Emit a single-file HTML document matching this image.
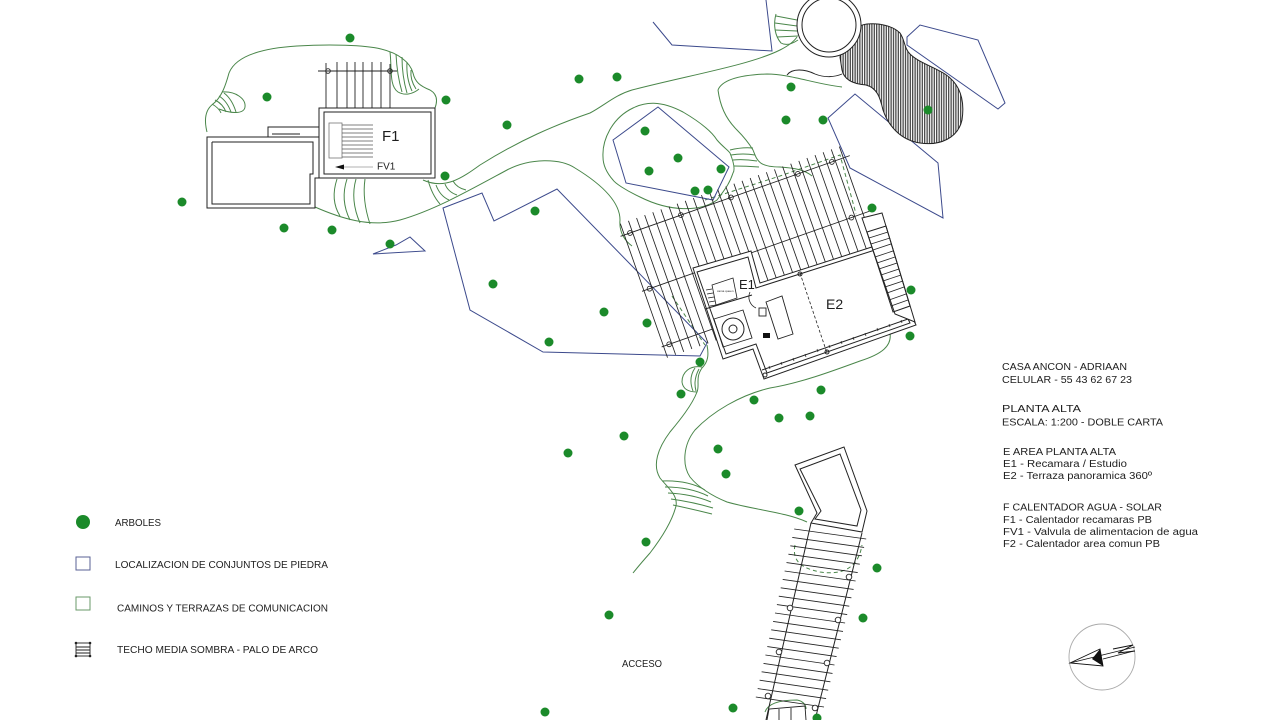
<!DOCTYPE html>
<html><head><meta charset="utf-8"><style>
html,body{margin:0;padding:0;background:#fff;}
svg{display:block;}
text{font-family:"Liberation Sans",sans-serif;fill:#1e1e1e;}
</style></head><body>
<svg width="1280" height="720" viewBox="0 0 1280 720" xmlns="http://www.w3.org/2000/svg">
<defs>
<pattern id="vh" width="2.4" height="10" patternUnits="userSpaceOnUse">
<rect width="2.4" height="10" fill="#fff"/>
<line x1="0.7" y1="0" x2="0.7" y2="10" stroke="#2a2a2a" stroke-width="1.1"/>
</pattern>
</defs>
<rect width="1280" height="720" fill="#fff"/>

<!-- GREEN PATHS -->
<g fill="none" stroke="#4a864a" stroke-width="1">
<path d="M207,132 C204,120 205,110 213,104 C222,97 226,84 229,73 C236,55 265,48 297,46 C330,44 365,45 381,49 C398,53 410,62 413,73 C415,82 420,86 430,90 C437,94 438,100 435,108"/>
<path d="M222,92 C236,91 246,99 245,107 C244,114 232,114 219,109"/>
<path d="M212,104 Q219,108 221,113 M215,100 Q223,104 226,112 M219,96 Q227,101 231,112 M224,93 Q232,99 236,112"/>
<path d="M390,52 C392,68 389,86 398,92 C405,96 413,94 419,89"/>
<path d="M396,54 Q397,75 402,92 M402,57 Q402,76 407,93 M407,62 Q406,78 412,91 M411,70 Q410,80 416,89"/>
<path d="M315,207 C340,218 370,228 400,220 C435,210 470,190 507,170 C530,158 560,158 575,168 C598,182 620,200 620,220 C619,232 624,240 632,246"/>
<path d="M337,179 Q330,200 340,216 M347,179 Q340,200 350,220 M356,179 Q350,200 360,223 M365,179 Q362,200 370,224"/>
<path d="M423,180 C445,190 462,178 480,165 C520,140 555,125 590,113 C605,105 615,95 632,90 C690,75 750,65 780,50 C790,45 795,40 797,37"/>
<path d="M428,180 Q432,195 440,204 M436,185 Q440,196 449,200 M445,184 Q448,192 457,195 M453,181 Q457,188 466,190"/>
<path d="M603,157 C602,140 612,118 633,108 C645,102 660,100 683,112 C700,122 712,132 717,140 C723,147 728,150 730,153 C734,163 735,170 733,173 C730,182 727,187 717,200 C700,212 670,212 640,197 C625,190 615,183 613,180 C606,172 603,165 603,157"/>
<path d="M730,150 Q742,147 753,148 M731,155 Q743,153 755,155 M733,160 Q744,159 757,161 M734,166 Q746,166 759,167"/>
<path d="M718,90 C722,80 740,75 767,74 C790,74 815,84 842,87"/>
<path d="M718,90 C720,105 725,118 737,130 C745,138 750,145 753,150 C757,160 758,167 780,167 C795,168 805,170 812,176"/>
<path d="M707,345 C709,355 708,362 702,368 C695,378 700,385 697,392 C692,405 680,420 670,432 C658,448 652,465 660,478 C668,488 678,495 676,506 C672,522 660,540 650,553 C642,562 637,568 633,573"/>
<path d="M890,333 C892,346 882,354 860,361 C830,372 800,383 770,388 C740,395 712,412 695,430 C683,445 682,465 690,477 C698,487 712,496 727,502 C755,510 785,512 807,522"/>
<path d="M702,367 C690,365 682,372 682,382 C683,390 690,392 697,392 M695,368 Q688,378 693,391 M699,369 Q693,380 696,391"/>
<path d="M662,481 Q688,480 705,490 M665,487 Q690,487 708,496 M668,493 Q692,494 711,502 M671,499 Q693,502 713,508 M673,505 Q692,509 712,514"/>
<path d="M776,14 C773,25 775,36 781,43 C786,46 792,44 798,40"/>
<path d="M776,16 L797,20 M775,23 L797,26 M775,30 L797,31 M777,37 L798,36"/>
<path d="M705,200 L780,176 L840,155 L856,214" stroke-dasharray="4,3"/>
<path d="M672,296 L705,345" stroke-dasharray="4,3"/>
<path d="M795,545 C792,560 800,568 820,572 C840,575 858,570 862,545" stroke-dasharray="4,3"/>
<path d="M765,712 C768,703 780,700 797,700 C803,701 806,705 806,709"/>
</g>

<!-- BLUE STONE AREAS -->
<g fill="none" stroke="#3c4a8c" stroke-width="1">
<polygon points="443,208 482,193 494,221 557,189 707,343 700,356 543,352 470,310"/>
<polygon points="613,140 658,107 729,167 713,200 626,183"/>
<polygon points="828,118 855,94 938,163 943,218 850,168"/>
<polygon points="907,37 920,25 978,40 1005,103 998,109 907,45"/>
<polyline points="653,22 672,45 772,51 766,0"/>
<polygon points="373,254 396,245 410,237 425,251"/>
</g>

<!-- CIRCLE + BLOB -->
<path d="M840,57 C845,38 852,26 867,24 C880,23 893,26 900,33 C905,40 904,48 910,54 C918,62 932,66 945,74 C960,84 965,100 962,120 C958,138 940,146 920,143 C900,140 888,125 883,110 C880,97 877,88 866,85 C853,84 844,80 842,70 Z" fill="url(#vh)" stroke="#222" stroke-width="1"/>
<circle cx="829" cy="25" r="32" fill="#fff" stroke="#222" stroke-width="1"/>
<circle cx="829" cy="25" r="27" fill="none" stroke="#222" stroke-width="1"/>
<path d="M787,75 C792,68 805,69 815,74 C825,78 835,77 842,74" fill="none" stroke="#222" stroke-width="0.9"/>

<!-- LEFT BUILDING + F1 -->
<g fill="none" stroke="#222" stroke-width="1">
<rect x="268" y="127" width="51" height="11" fill="#fff"/>
<line x1="272" y1="134" x2="300" y2="134"/>
<path d="M207,137 L319,137 L319,178 L315,178 L315,208 L207,208 Z" fill="#fff"/>
<path d="M212,142 L313,142 L313,174 L310,174 L310,204 L212,204 L212,142"/>
<g stroke-width="0.9">
<line x1="326" y1="63" x2="326" y2="108"/><line x1="337" y1="62" x2="337" y2="108"/>
<line x1="347" y1="62" x2="347" y2="108"/><line x1="355" y1="62" x2="355" y2="108"/>
<line x1="363" y1="62" x2="363" y2="108"/><line x1="372" y1="62" x2="372" y2="108"/>
<line x1="381" y1="62" x2="381" y2="108"/><line x1="390" y1="64" x2="390" y2="108"/>
<line x1="318" y1="71" x2="397" y2="71"/>
<circle cx="328" cy="71" r="2.3"/><circle cx="390" cy="71" r="2.3"/>
</g>
<rect x="319" y="108" width="116" height="70" fill="#fff"/>
<rect x="324" y="112" width="107" height="62"/>
<rect x="329" y="123" width="13" height="35" stroke="#777" stroke-width="0.8"/>
<g stroke="#555" stroke-width="0.8">
<line x1="342" y1="125" x2="373" y2="125"/><line x1="342" y1="129" x2="373" y2="129"/>
<line x1="342" y1="133" x2="373" y2="133"/><line x1="342" y1="137" x2="373" y2="137"/>
<line x1="342" y1="141" x2="373" y2="141"/><line x1="342" y1="145" x2="373" y2="145"/>
<line x1="342" y1="149" x2="373" y2="149"/><line x1="342" y1="153" x2="373" y2="153"/>
<line x1="342" y1="157" x2="373" y2="157"/>
</g>
<line x1="373" y1="167" x2="342" y2="167" stroke="#999" stroke-width="0.8"/>
</g>
<polygon points="335,167 344,164.5 344,169.5" fill="#111"/>
<text x="382" y="141" font-size="15">F1</text>
<text x="377" y="169.5" font-size="10">FV1</text>

<!-- PERGOLA -->
<g transform="translate(630,233) rotate(-19.4)" stroke="#222" stroke-width="0.85" fill="none">
<path d="M-6,-12V130 M2.6,-12V130 M11.2,-12V130 M19.8,-12V130 M28.4,-12V130 M37,-12V130 M45.6,-12V130 M54.2,-12V130 M62.8,-12V130 M71.4,-12V130 M80,-12V130 M88.6,-12V130 M97.2,-12V130 M105.8,-12V130 M114.4,-12V130 M123,-12V130 M131.6,-12V130 M140.2,-12V130 M148.8,-12V130 M157.4,-12V130 M166,-12V130 M174.6,-12V130 M183.2,-12V130 M191.8,-12V130 M200.4,-12V130 M209,-12V130 M217.6,-12V130 M226.2,-12V130"/>
<path d="M-10,0H233 M-8,59H233 M-8,118H60"/>
<circle cx="0" cy="0" r="2.4"/><circle cx="54" cy="0" r="2.4"/><circle cx="107" cy="0" r="2.4"/><circle cx="178" cy="0" r="2.4"/><circle cx="214" cy="0" r="2.4"/>
<circle cx="0" cy="59" r="2.4"/><circle cx="214" cy="59" r="2.4"/><circle cx="0" cy="118" r="2.4"/>
</g>

<!-- E1 / E2 BUILDING -->
<g stroke="#222" stroke-width="1" fill="none">
<path d="M693,268 L751,251 L760,283 L878,245 L916,325 L764,379 L753,349 L723,359 Z" fill="#fff"/>
<path d="M697,272 L748,257 L756,288 L875,250 L910,323 L767,373 L756,344 L726,354 Z"/>
<line x1="762" y1="370" x2="908" y2="319"/>
<path d="M770,369 l-1,-3 M782,365 l-1,-3 M794,361 l-1,-3 M806,357 l-1,-3 M818,352 l-1,-3 M830,348 l-1,-3 M842,344 l-1,-3 M854,340 l-1,-3 M866,336 l-1,-3 M878,331 l-1,-3 M890,327 l-1,-3 M902,323 l-1,-3" stroke-width="0.7"/>
<line x1="800" y1="273" x2="827" y2="353" stroke-dasharray="3,2" stroke-width="0.8"/>
<circle cx="800" cy="274" r="2"/><circle cx="827" cy="352" r="2"/><circle cx="765" cy="375" r="2"/>
<line x1="705" y1="309" x2="752" y2="295"/>
<polygon points="712,285 733,278 737,298 716,305" stroke-width="0.8"/>
<path d="M706,290 l6,-1 M707,294 l6,-1 M708,298 l6,-1 M709,302 l6,-1 M710,306 l6,-1" stroke-width="0.7"/>
<polygon points="714,319 743,310 752,338 723,347" stroke-width="0.9"/>
<circle cx="733" cy="329" r="11"/><circle cx="733" cy="329" r="4"/>
<path d="M750,292 A12,12 0 0 0 756,308" stroke-width="0.8"/>
<rect x="759" y="308" width="7" height="8" stroke-width="0.9"/>
<polygon points="766,302 782,296 793,334 778,339" stroke-width="0.9"/>
<polygon points="862,218 882,213 915,322 895,314" fill="#fff"/>
<polygon points="867,232 886,226 910,306 893,312"/>
<path d="M869,238 L888,232 M871,244 L890,238 M873,250 L891,244 M875,257 L893,251 M877,263 L895,257 M879,269 L897,263 M881,275 L899,269 M883,281 L901,275 M885,287 L903,281 M887,293 L904,287 M889,300 L906,294 M891,306 L908,300" stroke-width="0.8"/>
</g>
<rect x="763" y="333" width="7" height="5" fill="#111"/>
<text x="717" y="292" font-size="3" fill="#555">cama queen</text>
<text x="739" y="289" font-size="13">E1</text>
<text x="826" y="309" font-size="14">E2</text>

<!-- LOWER STAIR / ACCESS -->
<g stroke="#222" stroke-width="1" fill="none">
<polygon points="795,465 844,447 867,511 862,532 811,523 817,513"/>
<polygon points="800,469 840,454 861,510 857,526 815,519 821,511"/>
<line x1="811" y1="523" x2="766" y2="720"/>
<line x1="862" y1="533" x2="815" y2="720"/>
<g stroke-width="0.85">
<line x1="794.2" y1="529" x2="866.2" y2="539"/><line x1="792.3" y1="537.4" x2="864.1" y2="547.4"/>
<line x1="790.3" y1="545.8" x2="861.9" y2="555.8"/><line x1="788.4" y1="554.2" x2="859.8" y2="564.2"/>
<line x1="786.5" y1="562.6" x2="857.7" y2="572.6"/><line x1="784.6" y1="571" x2="855.6" y2="581"/>
<line x1="782.7" y1="579.4" x2="853.6" y2="589.4"/><line x1="780.7" y1="587.8" x2="851.4" y2="597.8"/>
<line x1="778.8" y1="596.2" x2="849.3" y2="606.2"/><line x1="776.9" y1="604.6" x2="847.2" y2="614.6"/>
<line x1="775" y1="613" x2="845.1" y2="623"/><line x1="773.1" y1="621.4" x2="843" y2="631.4"/>
<line x1="771.2" y1="629.8" x2="840.9" y2="639.8"/><line x1="769.2" y1="638.2" x2="838.7" y2="648.2"/>
<line x1="767.3" y1="646.6" x2="836.6" y2="656.6"/><line x1="765.4" y1="655" x2="834.5" y2="665"/>
<line x1="763.5" y1="663.4" x2="832.5" y2="673.4"/><line x1="761.6" y1="671.8" x2="830.4" y2="681.8"/>
<line x1="759.6" y1="680.2" x2="828.2" y2="690.2"/><line x1="757.7" y1="688.6" x2="826.1" y2="698.6"/>
<line x1="755.8" y1="697" x2="824" y2="707"/>
</g>
<g fill="#fff" stroke-width="0.9">
<circle cx="849" cy="577" r="2.8"/><circle cx="790" cy="608" r="2.8"/><circle cx="838" cy="620" r="2.8"/>
<circle cx="779" cy="652" r="2.8"/><circle cx="827" cy="663" r="2.8"/><circle cx="768" cy="696" r="2.8"/><circle cx="815" cy="708" r="2.8"/>
</g>
<path d="M767,720 L769,709 L805,706 L806,720 M779,709 L779,720 M791,708 L791,720" stroke-width="0.9" fill="#fff"/>
</g>
<text x="622" y="667" font-size="10.5" textLength="40" lengthAdjust="spacingAndGlyphs">ACCESO</text>

<!-- TREES -->
<g fill="#1b8a2a">
<circle cx="350" cy="38" r="4.5"/><circle cx="267" cy="97" r="4.5"/><circle cx="446" cy="100" r="4.5"/>
<circle cx="579" cy="79" r="4.5"/><circle cx="617" cy="77" r="4.5"/><circle cx="507" cy="125" r="4.5"/>
<circle cx="182" cy="202" r="4.5"/><circle cx="284" cy="228" r="4.5"/><circle cx="332" cy="230" r="4.5"/>
<circle cx="390" cy="244" r="4.5"/><circle cx="445" cy="176" r="4.5"/><circle cx="535" cy="211" r="4.5"/>
<circle cx="645" cy="131" r="4.5"/><circle cx="678" cy="158" r="4.5"/><circle cx="649" cy="171" r="4.5"/>
<circle cx="721" cy="169" r="4.5"/><circle cx="695" cy="191" r="4.5"/><circle cx="708" cy="190" r="4.5"/>
<circle cx="791" cy="87" r="4.5"/><circle cx="786" cy="120" r="4.5"/><circle cx="823" cy="120" r="4.5"/>
<circle cx="928" cy="110" r="4.5"/><circle cx="872" cy="208" r="4.5"/><circle cx="493" cy="284" r="4.5"/>
<circle cx="604" cy="312" r="4.5"/><circle cx="647" cy="323" r="4.5"/><circle cx="549" cy="342" r="4.5"/>
<circle cx="911" cy="290" r="4.5"/><circle cx="910" cy="336" r="4.5"/><circle cx="700" cy="362" r="4.5"/>
<circle cx="681" cy="394" r="4.5"/><circle cx="754" cy="400" r="4.5"/><circle cx="821" cy="390" r="4.5"/>
<circle cx="779" cy="418" r="4.5"/><circle cx="810" cy="416" r="4.5"/><circle cx="624" cy="436" r="4.5"/>
<circle cx="568" cy="453" r="4.5"/><circle cx="718" cy="449" r="4.5"/><circle cx="726" cy="474" r="4.5"/>
<circle cx="799" cy="511" r="4.5"/><circle cx="646" cy="542" r="4.5"/><circle cx="877" cy="568" r="4.5"/>
<circle cx="863" cy="618" r="4.5"/><circle cx="609" cy="615" r="4.5"/><circle cx="545" cy="712" r="4.5"/>
<circle cx="733" cy="708" r="4.5"/><circle cx="817" cy="718" r="4.5"/>
</g>

<!-- LEGEND -->
<circle cx="83" cy="522" r="7" fill="#1b8a2a"/>
<rect x="76" y="557" width="14" height="13" fill="none" stroke="#5a6294" stroke-width="1"/>
<rect x="76" y="597" width="14" height="13" fill="none" stroke="#6a9a6a" stroke-width="1"/>
<g stroke="#222" fill="none" stroke-width="0.9">
<rect x="76" y="643" width="14" height="13"/>
<path d="M76,647 H90 M76,650 H90 M76,653 H90"/>
</g>
<g fill="#222"><circle cx="76" cy="643" r="1.3"/><circle cx="90" cy="643" r="1.3"/><circle cx="76" cy="656" r="1.3"/><circle cx="90" cy="656" r="1.3"/></g>
<text x="115" y="526" font-size="10" textLength="46" lengthAdjust="spacingAndGlyphs">ARBOLES</text>
<text x="115" y="568" font-size="10" textLength="213" lengthAdjust="spacingAndGlyphs">LOCALIZACION DE CONJUNTOS DE PIEDRA</text>
<text x="117" y="611.5" font-size="10" textLength="211" lengthAdjust="spacingAndGlyphs">CAMINOS Y TERRAZAS DE COMUNICACION</text>
<text x="117" y="653" font-size="10" textLength="201" lengthAdjust="spacingAndGlyphs">TECHO MEDIA SOMBRA - PALO DE ARCO</text>

<!-- INFO TEXT -->
<g font-size="10">
<text x="1002" y="370" textLength="125" lengthAdjust="spacingAndGlyphs">CASA ANCON - ADRIAAN</text>
<text x="1002" y="383" textLength="130" lengthAdjust="spacingAndGlyphs">CELULAR - 55 43 62 67 23</text>
<text x="1002" y="412" textLength="79" lengthAdjust="spacingAndGlyphs">PLANTA ALTA</text>
<text x="1002" y="425.5" textLength="161" lengthAdjust="spacingAndGlyphs">ESCALA: 1:200 - DOBLE CARTA</text>
<text x="1003" y="455" textLength="113" lengthAdjust="spacingAndGlyphs">E AREA PLANTA ALTA</text>
<text x="1003" y="467" textLength="124" lengthAdjust="spacingAndGlyphs">E1 - Recamara / Estudio</text>
<text x="1003" y="479" textLength="149" lengthAdjust="spacingAndGlyphs">E2 - Terraza panoramica 360º</text>
<text x="1003" y="510.5" textLength="159" lengthAdjust="spacingAndGlyphs">F CALENTADOR AGUA - SOLAR</text>
<text x="1003" y="523" textLength="149" lengthAdjust="spacingAndGlyphs">F1 - Calentador recamaras PB</text>
<text x="1003" y="535" textLength="195" lengthAdjust="spacingAndGlyphs">FV1 - Valvula de alimentacion de agua</text>
<text x="1003" y="547" textLength="157" lengthAdjust="spacingAndGlyphs">F2 - Calentador area comun PB</text>
</g>

<!-- COMPASS -->
<circle cx="1102" cy="657" r="33" fill="none" stroke="#aaa" stroke-width="0.9"/>
<g stroke="#111" stroke-width="0.9" fill="none">
<polygon points="1070,663 1100,649 1103,666"/>
<line x1="1070" y1="663" x2="1135" y2="647"/>
<line x1="1103" y1="659" x2="1134" y2="651"/>
<polyline points="1113,649 1133,645 1118,653 1135,651"/>
</g>
<polygon points="1092,659 1100,649 1103,666" fill="#111"/>
</svg>
</body></html>
